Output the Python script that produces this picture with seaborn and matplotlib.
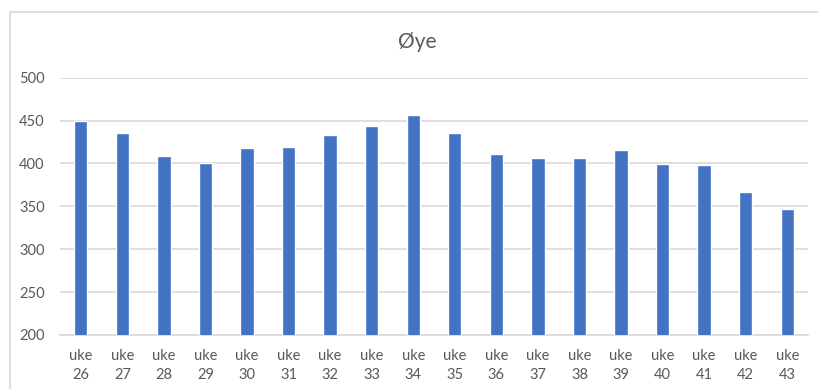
import matplotlib
matplotlib.use("Agg")
import matplotlib.pyplot as plt
import matplotlib.patches as mpatches
import seaborn as sns
import pandas as pd

# Weekly values
weeks = ["26", "27", "28", "29", "30", "31", "32", "33", "34",
         "35", "36", "37", "38", "39", "40", "41", "42", "43"]
values = [450, 436, 409, 400, 418, 419, 433, 444, 456,
          436, 411, 406, 406, 416, 399, 398, 367, 347]
tick_labels = [f"uke\n{w}" for w in weeks]
title = "Øye"

sns.set_theme(style="white")
plt.rcParams["font.family"] = ["Lato", "DejaVu Sans"]

text_color = "#595959"
grid_color = "#D9D9D9"
bar_color = "#4472C4"

df = pd.DataFrame({"week": tick_labels, "value": values})

fig = plt.figure(figsize=(8.18, 3.89), dpi=100)
ax = fig.add_axes([60 / 818, 1 - 335 / 389, (808 - 60) / 818, (335 - 77.7) / 389])

sns.barplot(data=df, x="week", y="value", color=bar_color, width=0.32,
            saturation=1, ax=ax, zorder=3)

ax.set_ylim(200, 500)
ax.set_yticks(range(200, 501, 50))
ax.set_xlim(-0.5, len(weeks) - 0.5)
ax.yaxis.grid(True, color=grid_color, linewidth=1.2, zorder=0)
ax.xaxis.grid(False)
for side in ["top", "right", "left"]:
    ax.spines[side].set_visible(False)
ax.spines["bottom"].set_color(grid_color)
ax.spines["bottom"].set_linewidth(1.2)

ax.set_xlabel("")
ax.set_ylabel("")
ax.tick_params(axis="both", length=0, colors=text_color, labelsize=10.5)
ax.tick_params(axis="y", pad=11)
ax.tick_params(axis="x", pad=10)
for lbl in ax.get_xticklabels():
    lbl.set_linespacing(1.45)

fig.text(417 / 818, 1 - 42 / 389, title, ha="center", va="center",
         fontsize=15, color=text_color)

# Chart frame
frame = mpatches.Rectangle((10 / 818, -0.05), 1.1, 1 - 12 / 389 + 0.05,
                           transform=fig.transFigure, fill=False,
                           edgecolor=grid_color, linewidth=1.2, clip_on=False)
fig.add_artist(frame)

fig.savefig("out.png", dpi=100, facecolor="white")
